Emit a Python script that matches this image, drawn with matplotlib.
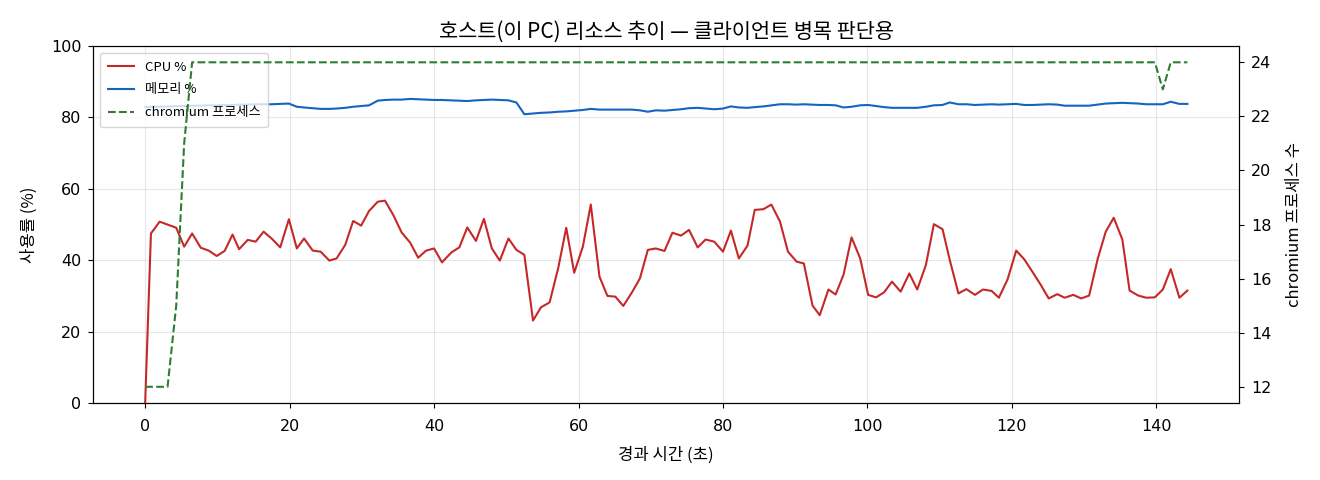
import matplotlib
matplotlib.use("Agg")
import matplotlib.pyplot as plt

plt.rcParams["font.family"] = ["Noto Sans CJK KR", "DejaVu Sans"]
plt.rcParams["axes.unicode_minus"] = False

# elapsed seconds for each sample
elapsed_s = [
    0.0, 0.8, 2.0, 3.1, 4.3, 5.4, 6.5, 7.7, 8.8, 9.9,
    11.0, 12.1, 13.0, 14.2, 15.3, 16.4, 17.5, 18.7, 19.9, 21.0,
    22.0, 23.2, 24.3, 25.5, 26.5, 27.7, 28.8, 29.9, 31.0, 32.2,
    33.2, 34.4, 35.5, 36.7, 37.8, 38.9, 40.0, 41.1, 42.4, 43.5,
    44.6, 45.8, 46.9, 48.0, 49.1, 50.3, 51.4, 52.5, 53.7, 54.8,
    56.0, 57.2, 58.3, 59.4, 60.6, 61.7, 62.9, 64.0, 65.1, 66.2,
    67.4, 68.5, 69.6, 70.7, 71.9, 73.0, 74.2, 75.3, 76.5, 77.6,
    78.8, 80.0, 81.1, 82.2, 83.4, 84.4, 85.6, 86.7, 87.9, 89.0,
    90.2, 91.2, 92.4, 93.4, 94.6, 95.6, 96.7, 97.8, 99.0, 100.1,
    101.2, 102.3, 103.4, 104.6, 105.8, 106.9, 108.1, 109.2, 110.4, 111.4,
    112.6, 113.7, 114.9, 116.0, 117.2, 118.2, 119.4, 120.6, 121.7, 122.9,
    124.0, 125.1, 126.3, 127.3, 128.5, 129.6, 130.7, 131.9, 133.0, 134.1,
    135.3, 136.3, 137.5, 138.6, 139.8, 140.9, 142.0, 143.2, 144.3,
]

cpu_pct = [
    0.0, 47.5, 50.8, 50.0, 49.1, 43.8, 47.5, 43.5, 42.7, 41.2,
    42.6, 47.2, 43.1, 45.7, 45.2, 48.0, 46.1, 43.6, 51.5, 43.3,
    46.1, 42.7, 42.4, 39.9, 40.5, 44.3, 51.0, 49.7, 53.8, 56.4,
    56.7, 52.5, 47.8, 44.9, 40.7, 42.7, 43.3, 39.4, 42.2, 43.6,
    49.2, 45.4, 51.6, 43.3, 39.9, 46.1, 42.9, 41.5, 23.1, 26.8,
    28.2, 37.9, 49.1, 36.5, 43.8, 55.6, 35.4, 30.0, 29.8, 27.2,
    31.0, 34.9, 42.9, 43.3, 42.6, 47.7, 46.9, 48.5, 43.6, 45.8,
    45.2, 42.4, 48.3, 40.5, 44.1, 54.1, 54.3, 55.6, 50.8, 42.4,
    39.6, 39.1, 27.3, 24.6, 31.8, 30.4, 36.0, 46.4, 40.5, 30.3,
    29.6, 31.0, 34.0, 31.2, 36.3, 31.8, 38.7, 50.1, 48.7, 40.1,
    30.7, 31.9, 30.3, 31.8, 31.4, 29.5, 34.6, 42.7, 40.3, 36.6,
    33.1, 29.3, 30.5, 29.5, 30.3, 29.3, 30.1, 40.5, 48.0, 51.9,
    45.8, 31.5, 30.1, 29.5, 29.6, 31.8, 37.5, 29.5, 31.5,
]

mem_pct = [
    82.9, 83.0, 83.0, 83.1, 83.2, 83.2, 83.3, 83.3, 83.4, 83.4,
    83.5, 83.5, 83.6, 83.6, 83.7, 83.7, 83.7, 83.8, 83.9, 83.0,
    82.8, 82.6, 82.4, 82.4, 82.5, 82.7, 83.0, 83.2, 83.4, 84.7,
    84.9, 85.0, 85.0, 85.2, 85.1, 85.0, 84.9, 84.9, 84.8, 84.7,
    84.6, 84.8, 84.9, 85.0, 84.9, 84.8, 84.2, 80.9, 81.1, 81.3,
    81.4, 81.6, 81.7, 81.9, 82.1, 82.4, 82.2, 82.2, 82.2, 82.2,
    82.2, 82.0, 81.6, 82.0, 81.9, 82.1, 82.3, 82.6, 82.7, 82.5,
    82.3, 82.5, 83.1, 82.8, 82.7, 82.9, 83.1, 83.4, 83.7, 83.7,
    83.6, 83.7, 83.6, 83.5, 83.5, 83.4, 82.8, 83.0, 83.4, 83.5,
    83.2, 82.9, 82.7, 82.7, 82.7, 82.7, 83.0, 83.4, 83.5, 84.2,
    83.7, 83.7, 83.5, 83.6, 83.7, 83.6, 83.7, 83.8, 83.5, 83.5,
    83.6, 83.7, 83.6, 83.3, 83.3, 83.3, 83.3, 83.6, 83.9, 84.0,
    84.1, 84.0, 83.9, 83.7, 83.7, 83.7, 84.4, 83.8, 83.8,
]

chromium_count = [
    12, 12, 12, 12, 15, 21, 24, 24, 24, 24,
    24, 24, 24, 24, 24, 24, 24, 24, 24, 24,
    24, 24, 24, 24, 24, 24, 24, 24, 24, 24,
    24, 24, 24, 24, 24, 24, 24, 24, 24, 24,
    24, 24, 24, 24, 24, 24, 24, 24, 24, 24,
    24, 24, 24, 24, 24, 24, 24, 24, 24, 24,
    24, 24, 24, 24, 24, 24, 24, 24, 24, 24,
    24, 24, 24, 24, 24, 24, 24, 24, 24, 24,
    24, 24, 24, 24, 24, 24, 24, 24, 24, 24,
    24, 24, 24, 24, 24, 24, 24, 24, 24, 24,
    24, 24, 24, 24, 24, 24, 24, 24, 24, 24,
    24, 24, 24, 24, 24, 24, 24, 24, 24, 24,
    24, 24, 24, 24, 24, 23, 24, 24, 24,
]

TICK_FONT = dict(family="DejaVu Sans", size=11.5)

fig = plt.figure(figsize=(13.2, 4.8), dpi=100)
ax = fig.add_axes([0.0705, 0.1604, 0.8685, 0.7436])

l1, = ax.plot(elapsed_s, cpu_pct, color="#c62828", linewidth=1.5, label="CPU %")
l2, = ax.plot(elapsed_s, mem_pct, color="#1565c0", linewidth=1.5, label="메모리 %")
ax.set_ylim(0, 100)
ax.set_xlabel("경과 시간 (초)", fontsize=12, labelpad=9)
ax.set_ylabel("사용률 (%)", fontsize=12, labelpad=9)
ax.set_title("호스트(이 PC) 리소스 추이 — 클라이언트 병목 판단용", fontsize=15, pad=6)
ax.grid(True, alpha=0.3)
ax.tick_params(axis="y", pad=5)
ax.tick_params(axis="x", pad=8)
for lab in ax.get_xticklabels() + ax.get_yticklabels():
    lab.set_fontfamily(TICK_FONT["family"])
    lab.set_fontsize(TICK_FONT["size"])

ax2 = ax.twinx()
l3, = ax2.plot(elapsed_s, chromium_count, color="#2e7d32", linewidth=1.5,
               linestyle="--", label="chromium 프로세스")
ax2.set_ylabel("chromium 프로세스 수", fontsize=12, labelpad=10)
ax2.tick_params(pad=5)
for lab in ax2.get_yticklabels():
    lab.set_fontfamily(TICK_FONT["family"])
    lab.set_fontsize(TICK_FONT["size"])

ax.legend(handles=[l1, l2, l3], loc="upper left", fontsize=9.5,
          labelspacing=0.75, borderpad=0.6)

fig.savefig("out.png", dpi=100)
